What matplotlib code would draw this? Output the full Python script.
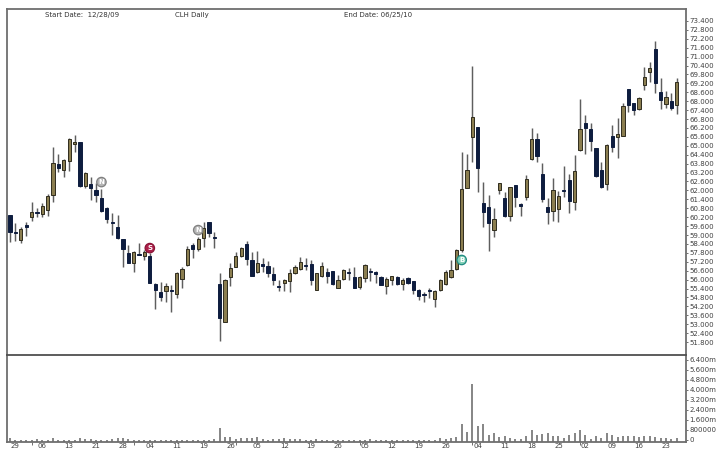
import numpy as np
import matplotlib
matplotlib.use("Agg")
import matplotlib.pyplot as plt

opens = [60.34,59.22,58.66,59.65,60.21,60.54,60.39,60.68,61.69,63.79,63.37,63.99,65.12,65.27,62.29,62.45,62.00,61.51,60.79,59.89,59.56,58.70,57.81,57.13,57.72,57.61,57.61,55.68,55.14,55.23,55.30,55.03,56.04,56.98,58.32,58.05,58.82,59.87,58.84,
 55.68,53.17,56.15,56.87,57.58,58.37,57.32,56.53,57.02,56.93,56.35,55.59,55.79,55.90,56.42,56.71,56.96,57.02,55.30,56.26,56.53,56.57,55.41,56.04,56.51,56.15,55.52,56.13,56.60,56.51,56.19,55.57,55.97,56.19,55.68,56.10,55.88,55.32,55.05,55.27,54.69,55.30,55.70,
 56.17,56.70,57.98,62.18,65.56,66.28,61.17,60.90,59.33,62.02,61.50,60.27,62.35,61.10,61.53,64.08,65.49,63.07,60.90,60.61,60.76,62.02,62.71,61.23,64.71,66.50,66.10,64.82,63.36,62.42,65.63,65.56,65.67,68.81,67.85,67.47,69.08,69.96,71.48,68.65,67.80,68.00,67.74]
highs = [60.34,59.82,59.51,59.89,61.24,60.79,61.12,61.75,64.94,64.44,64.08,65.50,65.72,65.27,63.25,62.92,62.47,62.07,60.86,60.45,60.34,58.70,58.32,57.92,58.48,57.99,57.76,55.74,55.81,55.74,55.63,56.53,56.82,58.26,58.43,58.88,59.89,59.89,59.22,
 56.42,56.04,57.09,57.88,58.21,58.59,57.88,57.92,57.43,57.25,56.82,55.97,56.01,56.69,56.98,57.54,57.43,57.32,56.46,57.16,56.80,56.57,56.31,56.71,56.80,56.87,56.26,57.02,56.75,56.57,56.24,56.15,56.26,56.24,56.08,56.15,55.92,55.36,55.19,55.45,55.30,56.04,56.64,
 57.31,58.05,64.55,64.44,70.38,66.28,62.58,61.68,60.85,62.53,61.91,62.24,62.35,61.12,63.03,66.23,65.87,63.81,61.46,62.85,61.97,63.63,63.09,64.37,68.18,67.06,66.50,64.82,63.92,65.09,66.39,66.84,67.89,68.81,67.89,68.30,70.31,70.61,72.04,69.57,68.68,68.57,69.57]
lows = [58.55,58.61,58.48,58.93,59.96,60.23,60.23,60.30,61.19,63.25,62.87,63.32,64.60,62.25,62.13,61.35,61.19,60.56,59.78,59.00,58.70,56.82,57.09,56.53,57.65,57.31,55.74,54.02,54.56,54.51,53.84,54.74,55.41,56.93,57.43,57.94,58.21,58.88,58.14,
 51.89,53.12,55.59,56.82,57.49,56.98,56.24,56.42,56.53,56.19,55.63,55.23,55.25,55.19,56.37,56.64,56.64,55.63,55.30,56.19,55.75,55.63,55.41,55.97,55.97,55.41,55.36,55.81,55.92,55.79,55.63,55.03,55.63,55.63,55.30,55.70,55.03,54.62,54.47,54.78,54.13,55.25,55.63,
 56.10,56.64,57.87,62.13,63.92,61.91,59.55,57.94,58.88,61.79,60.22,59.96,60.90,60.31,61.35,64.04,63.88,61.23,59.71,59.96,59.89,61.57,60.49,60.67,64.66,64.48,64.66,62.92,62.18,62.06,64.60,64.15,65.65,67.29,67.06,67.44,68.74,69.30,68.57,67.47,67.51,67.44,67.17]
closes = [59.22,59.13,59.40,59.56,60.56,60.45,60.95,61.62,63.82,63.52,64.04,65.45,65.27,62.29,63.14,62.13,61.69,60.63,60.05,59.80,58.77,58.05,57.13,57.83,57.65,57.83,55.74,55.30,54.80,55.59,55.21,56.46,56.71,58.03,58.05,58.73,59.49,59.11,58.77,
 53.39,55.97,56.75,57.58,58.10,57.36,56.24,57.09,56.93,56.42,55.97,55.50,55.97,56.46,56.87,57.20,56.89,55.97,56.46,56.93,56.24,55.68,55.97,56.64,56.42,55.43,56.19,56.98,56.53,56.37,55.66,56.04,56.22,55.70,55.97,55.75,55.30,54.89,54.96,55.21,55.25,55.97,56.53,
 56.64,57.98,62.09,63.36,66.91,63.54,60.56,59.84,60.05,62.47,60.27,62.24,61.53,60.96,62.80,65.49,64.31,61.41,60.52,62.02,61.61,61.95,61.26,63.32,66.10,66.21,65.34,62.96,62.20,65.05,64.93,65.78,67.67,67.74,67.40,68.23,69.64,70.20,69.19,68.05,68.25,67.51,69.28]
volumes_m = [.19,.03,.02,.02,.03,.05,.03,.03,.16,.03,.03,.02,.02,.19,.05,.05,.03,.02,.02,.05,.13,.13,.05,.03,.03,
 .02,.03,.03,.02,.03,.02,.03,.03,.02,.03,.02,.03,.03,.05,.99,.24,.21,.05,.16,.16,.16,.24,.05,.03,.11,.05,.13,.05,.05,.05,
 .03,.03,.05,.03,.03,.03,.02,.03,.02,.03,.03,.02,.05,.02,.02,.03,.03,.03,.03,.03,.03,.02,.02,.03,.03,.16,.05,.13,.24,
 1.25,.67,4.45,1.09,1.25,.40,.53,.24,.32,.16,.11,.11,.35,.83,.37,.48,.59,.32,.32,.16,.37,.53,.83,.43,.11,.32,.13,.53,.43,.24,.29,.35,.29,.24,.29,.35,.24,.19,.16,.05,.19]

week_idx = [1,6,11,16,21,26,31,36,41,46,51,56,61,66,71,76,81,87,92,97,102,107,112,117,122]
week_lab = ["29","06","13","21","28","04","11","19","26","05","12","19","26","05","12","19","26","04","11","18","25","02","09","16","23"]
month_idx = [4,23,42,65,86,106]
price_ticks = [51.8 + 0.6 * k for k in range(37)]
vol_ticks = [0, 0.8, 1.6, 2.4, 3.2, 4.0, 4.8, 5.6, 6.4]
vol_labels = ["0", "800000", "1.600m", "2.400m", "3.200m", "4.000m", "4.800m", "5.600m", "6.400m"]
signal_idx = [17, 26, 35, 84]
signal_price = [62.56, 58.12, 59.33, 57.32]
signal_text = ["N", "S", "N", "B"]
signal_face = ["#b5b5b5", "#ad1f4a", "#b5b5b5", "#7fcfb6"]
signal_edge = ["#808080", "#8a1436", "#808080", "#1f8a80"]

TAN, NAVY, EDGE, WICK, LINE, TXT = "#8b7e50", "#0e1d3f", "#2f2c1e", "#5e5e5e", "#6e6e6e", "#404040"
W, H = 720, 463
fig = plt.figure(figsize=(7.2, 4.63), dpi=100)
def rect(l, t, r, b):
    return [l / W, 1 - b / H, (r - l) / W, (b - t) / H]
ax = fig.add_axes(rect(7, 9, 686, 355))
av = fig.add_axes(rect(7, 355, 686, 442.3), sharex=ax)
n = len(opens)
x = np.arange(n)
ax.set_xlim(-0.56, 125.72)
ax.set_ylim(50.93, 74.2)
av.set_ylim(-0.184, 6.8)

o, h, l, c = map(np.array, (opens, highs, lows, closes))
up = c >= o
ax.vlines(x, l, h, color=WICK, lw=1.05, zorder=2)
bot = np.minimum(o, c)
hgt = np.maximum(np.abs(c - o), 0.07)
ax.bar(x, hgt, 0.6, bottom=bot, color=[TAN if u else NAVY for u in up],
       edgecolor=[EDGE if u else NAVY for u in up], linewidth=0.7, zorder=3)
ax.scatter(signal_idx, signal_price, s=46, c=signal_face, edgecolors=signal_edge, linewidths=0.9, zorder=4)
for i, p, t in zip(signal_idx, signal_price, signal_text):
    ax.text(i, p, t, fontsize=5, color="white", ha="center", va="center", fontweight="bold", zorder=5)

av.vlines(x, -0.184, volumes_m, color="#6a6a6a", lw=1.15)

for a in (ax, av):
    for s in ("left", "right", "top", "bottom"):
        a.spines[s].set_color(LINE)
        a.spines[s].set_linewidth(1.3)
    a.yaxis.tick_right()
ax.spines["bottom"].set_visible(False)
av.spines["top"].set_color("#4f4f4f")
ax.set_yticks(price_ticks)
ax.set_yticklabels([f"{v:.3f}" for v in price_ticks])
av.set_yticks(vol_ticks)
av.set_yticklabels(vol_labels)
for a in (ax, av):
    a.tick_params(axis="y", labelsize=5, labelcolor=TXT, color=LINE, length=1.6, width=0.7, pad=0.8)
ax.tick_params(axis="x", bottom=False, labelbottom=False)
av.set_xticks(week_idx)
av.set_xticklabels(week_lab)
av.set_xticks(month_idx, minor=True)
av.tick_params(axis="x", which="major", labelsize=5, labelcolor=TXT, length=0, pad=0.8)
av.tick_params(axis="x", which="minor", length=2.2, width=0.7, color=LINE)

fig.text(45 / W, 1 - 14.5 / H, "Start Date:  12/28/09", fontsize=5, color="#333333", va="center")
fig.text(175 / W, 1 - 14.5 / H, "CLH Daily", fontsize=5, color="#333333", va="center")
fig.text(344 / W, 1 - 14.5 / H, "End Date: 06/25/10", fontsize=5, color="#333333", va="center")
fig.savefig("out.png", dpi=100)
